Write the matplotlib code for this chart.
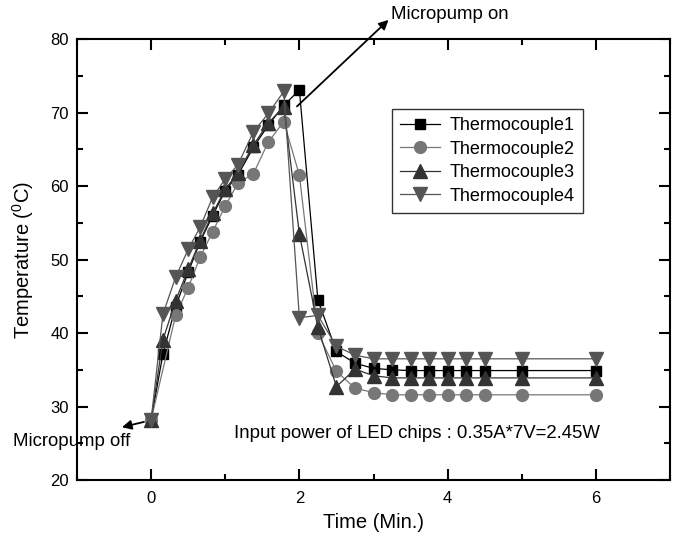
import matplotlib
matplotlib.use("Agg")
import matplotlib.pyplot as plt
from matplotlib.ticker import MultipleLocator

plt.rcParams['font.family'] = ['Liberation Sans', 'DejaVu Sans']
plt.rcParams['mathtext.fontset'] = 'custom'
plt.rcParams['mathtext.rm'] = 'Liberation Sans'
plt.rcParams['mathtext.it'] = 'Liberation Sans'

# time axis (min)
time_all = [0, 0.16, 0.33, 0.5, 0.66, 0.83, 1.0, 1.17, 1.38, 1.58, 1.79, 2.0,
            2.25, 2.5, 2.75, 3.0, 3.25, 3.5, 3.75, 4.0, 4.25, 4.5, 5.0, 6.0]
time_tc2 = [0, 0.33, 0.5, 0.66, 0.83, 1.0, 1.17, 1.38, 1.58, 1.79, 2.0,
            2.25, 2.5, 2.75, 3.0, 3.25, 3.5, 3.75, 4.0, 4.25, 4.5, 5.0, 6.0]

tc1 = [28.2, 37.2, 43.6, 48.3, 52.4, 56.0, 59.4, 61.5, 65.3, 68.3, 71.0, 73.1,
       44.5, 37.5, 35.9, 35.2, 35.0, 34.9, 34.9, 34.9, 34.9, 34.9, 34.9, 34.9]
tc2 = [28.2, 42.4, 46.2, 50.3, 53.8, 57.3, 60.4, 61.7, 66.0, 68.8, 61.5,
       40.0, 34.8, 32.5, 31.9, 31.6, 31.6, 31.6, 31.6, 31.6, 31.6, 31.6, 31.6]
tc3 = [28.2, 39.1, 44.4, 48.7, 52.6, 56.3, 59.6, 61.8, 65.6, 68.6, 70.8, 53.5,
       40.8, 32.7, 35.1, 34.2, 33.9, 33.9, 33.9, 33.9, 33.9, 33.9, 33.9, 33.9]
tc4 = [28.2, 42.6, 47.6, 51.4, 54.4, 58.5, 61.0, 62.9, 67.4, 69.9, 72.9, 42.1,
       42.4, 38.2, 37.0, 36.5, 36.5, 36.5, 36.5, 36.5, 36.5, 36.5, 36.5, 36.5]

labels = ['Thermocouple1', 'Thermocouple2', 'Thermocouple3', 'Thermocouple4']
x_ticks = [0, 2, 4, 6]
y_ticks = [20, 30, 40, 50, 60, 70, 80]

fig = plt.figure(figsize=(6.76, 5.44), dpi=100)
ax = fig.add_axes([77/676, 1 - 480/544, (670 - 77)/676, (480 - 39.3)/544])

ax.plot(time_all, tc1, '-s', color='black', lw=0.9, ms=7.5, mfc='black', mec='black', label=labels[0])
ax.plot(time_tc2, tc2, '-o', color='#777777', lw=0.9, ms=8.5, mfc='#777777', mec='#777777', label=labels[1])
ax.plot(time_all, tc3, '-^', color='#333333', lw=0.9, ms=9.5, mfc='#333333', mec='#333333', label=labels[2])
ax.plot(time_all, tc4, '-v', color='#555555', lw=0.9, ms=9.5, mfc='#555555', mec='#555555', label=labels[3])

ax.set_xlim(-1, 7)
ax.set_ylim(20, 80)
ax.set_xticks(x_ticks)
ax.set_yticks(y_ticks)
ax.xaxis.set_minor_locator(MultipleLocator(1))
ax.yaxis.set_minor_locator(MultipleLocator(5))
ax.tick_params(which='major', direction='in', length=8, width=1.5, labelsize=12,
               top=True, right=True)
ax.tick_params(which='minor', direction='in', length=4, width=1.5, top=True, right=True)
ax.tick_params(axis='x', which='major', pad=8)
ax.tick_params(axis='y', which='major', pad=6)
for s in ax.spines.values():
    s.set_linewidth(1.5)

ax.set_xlabel('Time (Min.)', fontsize=14.5, labelpad=5)
ax.set_ylabel('Temperature ($^{0}$C)', fontsize=14.5, labelpad=10)

leg = ax.legend(loc='upper left', bbox_to_anchor=((392 - 77)/593, 1 - (109 - 39.3)/440.7),
                fontsize=13, frameon=True, fancybox=False, edgecolor='black',
                handlelength=2.2, handletextpad=0.55, borderpad=0.45, labelspacing=0.36,
                borderaxespad=0)
leg.get_frame().set_linewidth(1.0)

ax.annotate('', xy=(3.23, 82.9), xytext=(1.94, 70.6),
            arrowprops=dict(arrowstyle='-|>', color='black', lw=1.3, mutation_scale=14),
            annotation_clip=False)
ax.text(3.23, 83.4, 'Micropump on', fontsize=13.4, ha='left', va='center', clip_on=False)

ax.annotate('', xy=(-0.43, 27.1), xytext=(-0.06, 28.0),
            arrowprops=dict(arrowstyle='-|>', color='black', lw=1.3, mutation_scale=14),
            annotation_clip=False)
ax.text(-1.86, 25.3, 'Micropump off', fontsize=13.4, ha='left', va='center', clip_on=False)

ax.text(1.12, 26.3, 'Input power of LED chips : 0.35A*7V=2.45W', fontsize=13.4,
        ha='left', va='center')

fig.savefig('out.png', dpi=100)
